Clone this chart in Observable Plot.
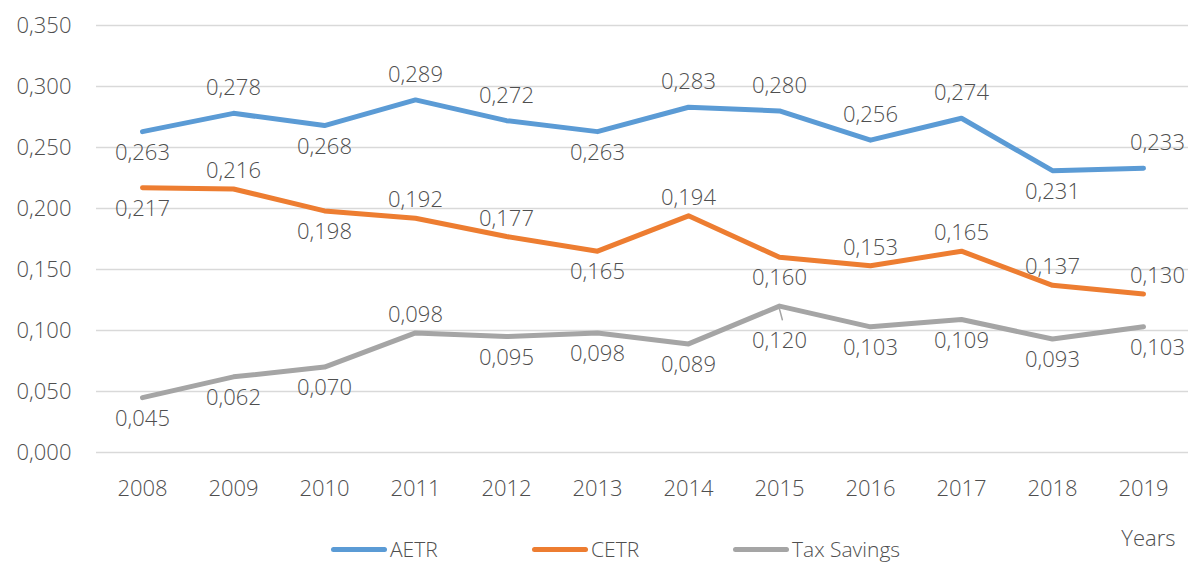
<!DOCTYPE html>
<html>
<head>
<meta charset="utf-8">
<script src="https://cdn.jsdelivr.net/npm/d3@7"></script>
<script src="https://cdn.jsdelivr.net/npm/@observablehq/plot@0.6"></script>
<style>
html, body { margin: 0; padding: 0; background: #fff; overflow: hidden; width: 1193px; height: 563px; }
#chart { position: relative; width: 1193px; height: 563px; font-family: "Open Sans", sans-serif; font-weight: 300; }
#chart svg { display: block; }
.legend { position: absolute; left: 0; top: 536px; width: 1193px; height: 26px; }
.item { position: absolute; top: 0; display: flex; align-items: center; font-size: 21px; color: #4f4f4f; line-height: 26px; height: 26px; white-space: nowrap; font-weight: 300; }
.sw { width: 56px; height: 5px; border-radius: 3px; margin-right: 3px; }
</style>
</head>
<body>
<div id="chart"></div>
<script>
// ---- data ----
const years = [2008, 2009, 2010, 2011, 2012, 2013, 2014, 2015, 2016, 2017, 2018, 2019];
const seriesNames = ["AETR", "CETR", "Tax Savings"];
const aetr = [0.263, 0.278, 0.268, 0.289, 0.272, 0.263, 0.283, 0.280, 0.256, 0.274, 0.231, 0.233];
const cetr = [0.217, 0.216, 0.198, 0.192, 0.177, 0.165, 0.194, 0.160, 0.153, 0.165, 0.137, 0.130];
const taxSavings = [0.045, 0.062, 0.070, 0.098, 0.095, 0.098, 0.089, 0.120, 0.103, 0.109, 0.093, 0.103];
const yTicks = [0, 0.05, 0.10, 0.15, 0.20, 0.25, 0.30, 0.35];
const xLabel = "Years";

// label placement codes: t = well above, a = above, b = below, B = below with leader line
const aetrLabelPos = ["b", "t", "b", "t", "t", "b", "t", "t", "t", "t", "b", "t"];
const cetrLabelPos = ["b", "a", "b", "a", "a", "b", "a", "b", "a", "a", "a", "a"];
const taxLabelPos  = ["b", "b", "b", "a", "b", "b", "b", "B", "b", "b", "b", "b"];

const colors = ["#5B9BD5", "#ED7D31", "#A5A5A5"];
const textColor = "#4f4f4f";

// ---- table ----
const valueSets = [aetr, cetr, taxSavings];
const posSets = [aetrLabelPos, cetrLabelPos, taxLabelPos];
const rows = [];
seriesNames.forEach((name, s) => {
  valueSets[s].forEach((v, i) => {
    rows.push({ series: name, year: years[i], value: v, pos: posSets[s][i], last: i === years.length - 1 });
  });
});

const fmt = v => d3.format(".3f")(v).replace(".", ",");
const dyFor = { t: -25, a: -18, b: 21, B: 35 };
const font = 22;

const labelMarks = [];
for (const code of Object.keys(dyFor)) {
  for (const isLast of [false, true]) {
    const subset = rows.filter(d => d.pos === code && d.last === isLast);
    if (!subset.length) continue;
    labelMarks.push(Plot.text(subset, {
      x: "year", y: "value", text: d => fmt(d.value),
      dy: dyFor[code], dx: isLast ? 14 : 0,
      fill: textColor, fontSize: font, lineAnchor: "middle"
    }));
  }
}

const leaderShape = { draw(context, l) { context.moveTo(0, 0); context.lineTo(0, -l); } };

const chart = Plot.plot({
  width: 1193,
  height: 563,
  marginLeft: 96,
  marginRight: 5,
  marginTop: 25,
  marginBottom: 111,
  style: { fontFamily: "'Open Sans', sans-serif", fontWeight: 300, fontSize: font + "px", color: textColor, background: "transparent" },
  x: { type: "point", domain: years, padding: 0.5 },
  y: { domain: [0, 0.35] },
  color: { domain: seriesNames, range: colors },
  marks: [
    Plot.ruleY(yTicks, { stroke: "#d9d9d9", strokeWidth: 1.5 }),
    Plot.axisY({ ticks: yTicks, tickSize: 0, tickPadding: 25, tickFormat: fmt, fontSize: font, label: null }),
    Plot.axisX({ tickSize: 0, tickPadding: 28, tickFormat: d => String(d), fontSize: font, label: null }),
    Plot.line(rows, { x: "year", y: "value", z: "series", stroke: "series", strokeWidth: 5, strokeLinejoin: "round", strokeLinecap: "round" }),
    Plot.vector(rows.filter(d => d.pos === "B"), {
      x: "year", y: "value", length: 11, rotate: 165, anchor: "start", dy: 3,
      stroke: "#A5A5A5", strokeWidth: 1.5, shape: leaderShape
    }),
    ...labelMarks,
    Plot.text([xLabel], { text: d => d, frameAnchor: "bottom-right", dx: -13, dy: 86, textAnchor: "end", lineAnchor: "middle", fill: textColor, fontSize: font })
  ]
});

const root = document.getElementById("chart");
root.appendChild(chart);

// legend
const legend = document.createElement("div");
legend.className = "legend";
const legendLeft = [331, 532, 733];
seriesNames.forEach((name, i) => {
  const item = document.createElement("div");
  item.className = "item";
  item.style.left = legendLeft[i] + "px";
  const sw = document.createElement("span");
  sw.className = "sw";
  sw.style.background = colors[i];
  const tx = document.createElement("span");
  tx.textContent = name;
  item.appendChild(sw);
  item.appendChild(tx);
  legend.appendChild(item);
});
root.appendChild(legend);
</script>
</body>
</html>
